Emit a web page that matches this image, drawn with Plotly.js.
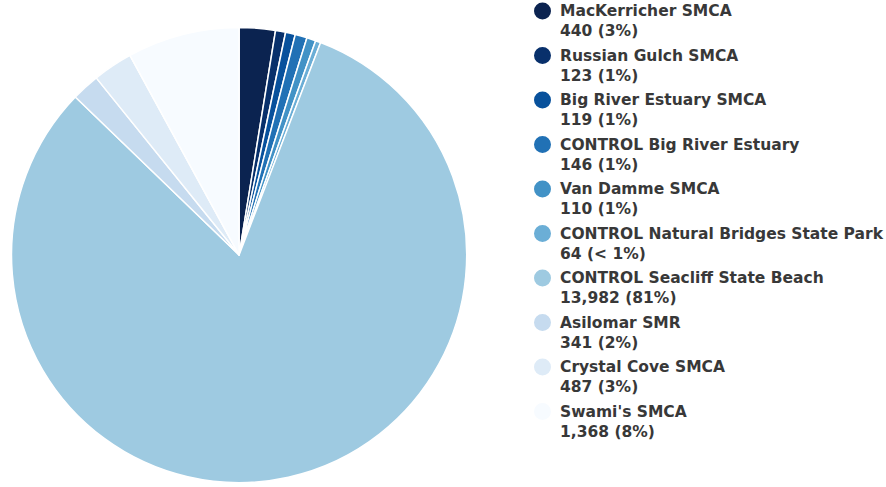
<!DOCTYPE html>
<html>
<head>
<meta charset="utf-8">
<script src="https://cdn.plot.ly/plotly-3.0.1.min.js"></script>
<style>html,body{margin:0;padding:0;background:#fff;}#chart{width:886px;height:487px;}</style>
</head>
<body>
<div id="chart"></div>
<script>
var labels = ["MacKerricher SMCA", "Russian Gulch SMCA", "Big River Estuary SMCA", "CONTROL Big River Estuary", "Van Damme SMCA", "CONTROL Natural Bridges State Park", "CONTROL Seacliff State Beach", "Asilomar SMR", "Crystal Cove SMCA", "Swami's SMCA"];
var values = [440, 123, 119, 146, 110, 64, 13982, 341, 487, 1368];
var colors = ["#0b2350", "#08306b", "#08519c", "#2171b5", "#4292c6", "#6baed6", "#9ecae1", "#c6dbef", "#deebf7", "#f7fbff"];

var W = 886, H = 487;
var total = values.reduce(function(a, b) { return a + b; }, 0);
function pctText(v) {
  var p = v / total * 100;
  return p < 0.5 ? "< 1%" : Math.round(p) + "%";
}
function fmt(v) { return v.toLocaleString("en-US"); }

var shapes = [], annotations = [];
var font1 = {family: "DejaVu Sans", size: 15.5, color: "#383838", weight: "bold"};
for (var i = 0; i < labels.length; i++) {
  var yc = 11 + i * 44.5;
  shapes.push({
    type: "circle", xref: "paper", yref: "paper",
    x0: 534 / W, x1: 551 / W, y0: 1 - (yc + 8.5) / H, y1: 1 - (yc - 8.5) / H,
    fillcolor: colors[i], line: {width: 0}
  });
  annotations.push({
    xref: "paper", yref: "paper", x: 558 / W, y: 1 - yc / H,
    xanchor: "left", yanchor: "middle", showarrow: false,
    text: "<b>" + labels[i] + "</b>", font: font1
  });
  annotations.push({
    xref: "paper", yref: "paper", x: 558 / W, y: 1 - (yc + 20) / H,
    xanchor: "left", yanchor: "middle", showarrow: false,
    text: "<b>" + fmt(values[i]) + " (" + pctText(values[i]) + ")</b>", font: font1
  });
}

var data = [{
  type: "pie",
  labels: labels,
  values: values,
  sort: false,
  direction: "clockwise",
  rotation: 0,
  textinfo: "none",
  hoverinfo: "label+value+percent",
  marker: {colors: colors, line: {color: "#ffffff", width: 1.5}},
  domain: {x: [11.5 / W, 466.7 / W], y: [4.3 / H, 459.6 / H]},
  showlegend: false
}];

var layout = {
  width: W, height: H,
  margin: {l: 0, r: 0, t: 0, b: 0},
  paper_bgcolor: "#ffffff",
  showlegend: false,
  shapes: shapes,
  annotations: annotations
};
Plotly.newPlot("chart", data, layout, {displayModeBar: false, staticPlot: true});
</script>
</body>
</html>
